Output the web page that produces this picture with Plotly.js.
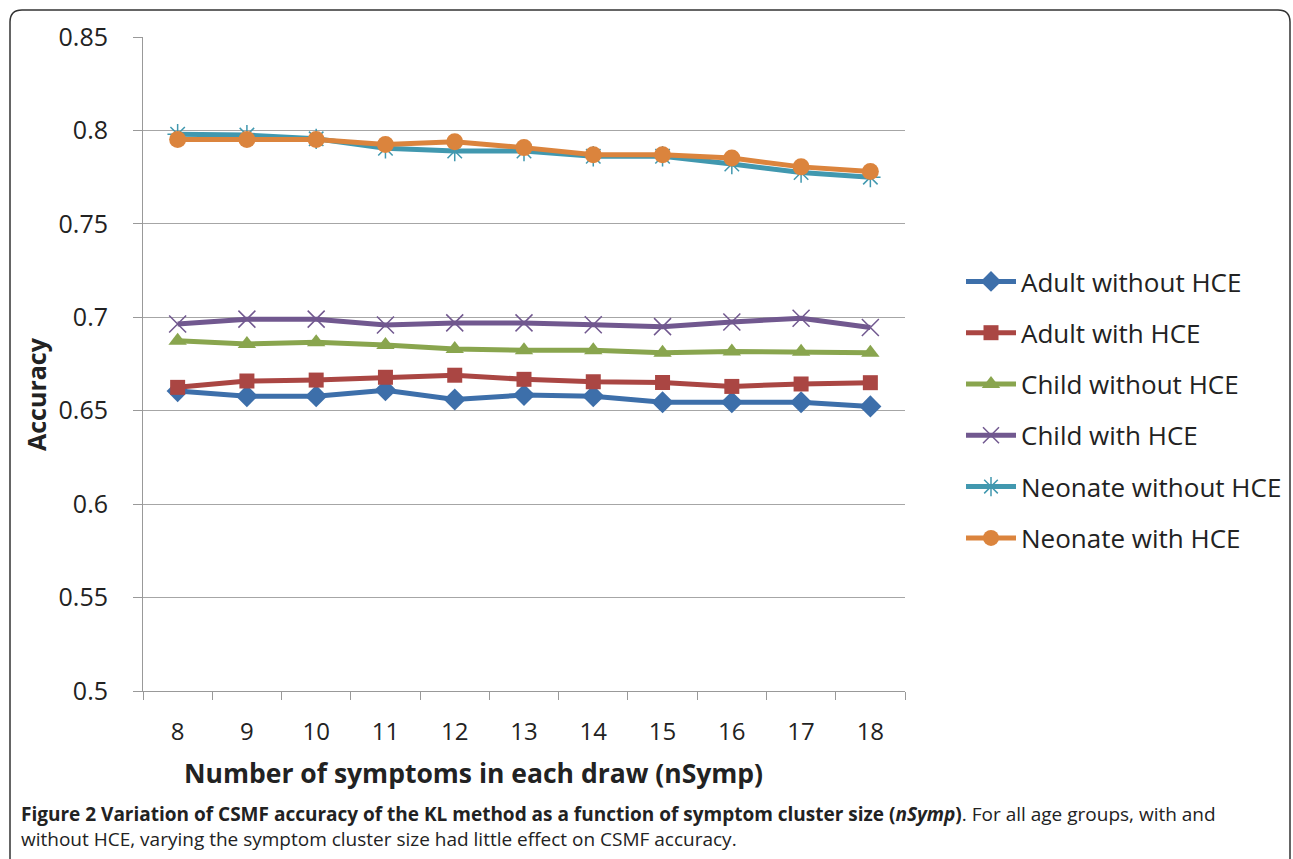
<!DOCTYPE html>
<html>
<head>
<meta charset="utf-8">
<script src="https://cdn.plot.ly/plotly-3.0.1.min.js"></script>
<style>html,body{margin:0;padding:0;background:#fff;}#chart{width:1293px;height:859px;}</style>
</head>
<body>
<div id="chart"></div>
<script>
// ---- data ----
const nSymp = ["8","9","10","11","12","13","14","15","16","17","18"];
const adultWithout   = [0.6605,0.6578,0.6578,0.6610,0.6560,0.6584,0.6578,0.6545,0.6545,0.6545,0.6523];
const adultWith      = [0.6625,0.6659,0.6664,0.6679,0.6690,0.6668,0.6655,0.6651,0.6630,0.6643,0.6650];
const childWithout   = [0.6875,0.6857,0.6866,0.6852,0.6830,0.6823,0.6823,0.6810,0.6817,0.6815,0.6810];
const childWith      = [0.6964,0.6990,0.6990,0.6959,0.6970,0.6970,0.6960,0.6950,0.6975,0.6995,0.6945];
const neonateWithout = [0.7980,0.7975,0.7955,0.7905,0.7890,0.7890,0.7862,0.7862,0.7820,0.7775,0.7750];
const neonateWith    = [0.7952,0.7952,0.7952,0.7925,0.7940,0.7908,0.7870,0.7870,0.7852,0.7805,0.7780];
const seriesNames = ["Adult without HCE","Adult with HCE","Child without HCE","Child with HCE","Neonate without HCE","Neonate with HCE"];
const yTicks = [0.5,0.55,0.6,0.65,0.7,0.75,0.8,0.85];
const yTickText = ["0.5","0.55","0.6","0.65","0.7","0.75","0.8","0.85"];

// ---- styles ----
const colors = ["#3D6FAA","#AA4643","#89A54E","#71588F","#4198AF","#DB843D"];
const symbols = ["diamond","square","triangle-up","x-thin-open","asterisk-open","circle"];
const sizes = [17,15,16,17,17,17];
const values = [adultWithout,adultWith,childWithout,childWith,neonateWithout,neonateWith];

const traces = values.map((v,i)=>({
  x: nSymp, y: v, name: seriesNames[i], type: "scatter", mode: "lines+markers",
  legendgroup: "g"+i,
  line: {color: colors[i], width: 5},
  marker: {symbol: symbols[i], size: sizes[i], color: colors[i],
           line: {color: colors[i], width: (i===3||i===4) ? 1.5 : 0}}
}));

// ---- layout geometry (pixels) ----
const W = 1293, H = 859;
const L = 143, R = 905, T = 37, B = 691;
const pw = R - L, ph = B - T;
const px = x => (x - L) / pw;
const py = y => (B - y) / ph;

// rounded border path
function roundRect(x0,y0,x1,y1,r){
  const P=(x,y)=>px(x).toFixed(5)+","+py(y).toFixed(5);
  return "M"+P(x0+r,y0)+" L"+P(x1-r,y0)+" Q"+P(x1,y0)+" "+P(x1,y0+r)+
         " L"+P(x1,y1-r)+" Q"+P(x1,y1)+" "+P(x1-r,y1)+
         " L"+P(x0+r,y1)+" Q"+P(x0,y1)+" "+P(x0,y1-r)+
         " L"+P(x0,y0+r)+" Q"+P(x0,y0)+" "+P(x0+r,y0)+" Z";
}

const font = "Open Sans, Noto Sans, DejaVu Sans, sans-serif";

const layout = {
  width: W, height: H,
  margin: {l: L, r: W - R, t: T, b: H - B, autoexpand: false},
  paper_bgcolor: "#fff", plot_bgcolor: "#fff",
  showlegend: true,
  font: {family: font, color: "#222"},
  xaxis: {
    type: "category", range: [-0.5, 10.5], tickson: "boundaries", ticks: "outside", ticklen: 8, tickwidth: 1,
    tickcolor: "#999", showline: true, linecolor: "#999", linewidth: 1,
    showgrid: false, zeroline: false, fixedrange: true,
    tickfont: {size: 24, color: "#222", family: font}, ticklabelstandoff: 19
  },
  yaxis: {
    range: [0.5, 0.85], tickvals: yTicks, ticktext: yTickText,
    ticks: "outside", ticklen: 9, tickcolor: "#999", tickwidth: 1,
    showline: true, linecolor: "#999", linewidth: 1,
    showgrid: true, gridcolor: "#A6A6A6", gridwidth: 1, zeroline: false,
    tickfont: {size: 25, color: "#222", family: font}, ticklabelstandoff: 20
  },
  legend: {
    x: px(961), y: py(258), xanchor: "left", yanchor: "top",
    font: {size: 26, color: "#222", family: font},
    traceorder: "grouped", tracegroupgap: 14.5, itemwidth: 50,
    bgcolor: "rgba(0,0,0,0)"
  },
  shapes: [{
    type: "path", xref: "paper", yref: "paper", path: roundRect(10, 10, 1290, 870, 12),
    line: {color: "#333", width: 1.5}, fillcolor: "rgba(0,0,0,0)"
  }],
  annotations: [
    {text: "<b>Accuracy</b>", xref: "paper", yref: "paper", x: px(36), y: py(394),
     xanchor: "center", yanchor: "middle",
     textangle: -90, showarrow: false, font: {size: 25, color: "#222", family: font}},
    {text: "<b>Number of symptoms in each draw (nSymp)</b>", xref: "paper", yref: "paper",
     x: px(473), y: py(773), xanchor: "center", yanchor: "middle",
     showarrow: false, font: {size: 26.5, color: "#222", family: font}},
    {text: "<b>Figure 2 Variation of CSMF accuracy of the KL method as a function of symptom cluster size (<i>nSymp</i>)</b>. For all age groups, with and",
     xref: "paper", yref: "paper", x: px(19), y: py(814), xanchor: "left", yanchor: "middle", showarrow: false,
     font: {size: 19, color: "#222", family: font}},
    {text: "without HCE, varying the symptom cluster size had little effect on CSMF accuracy.",
     xref: "paper", yref: "paper", x: px(19), y: py(839), xanchor: "left", yanchor: "middle", showarrow: false,
     font: {size: 19, color: "#222", family: font}}
  ]
};

Plotly.newPlot("chart", traces, layout, {displayModeBar: false, staticPlot: true});
</script>
</body>
</html>
